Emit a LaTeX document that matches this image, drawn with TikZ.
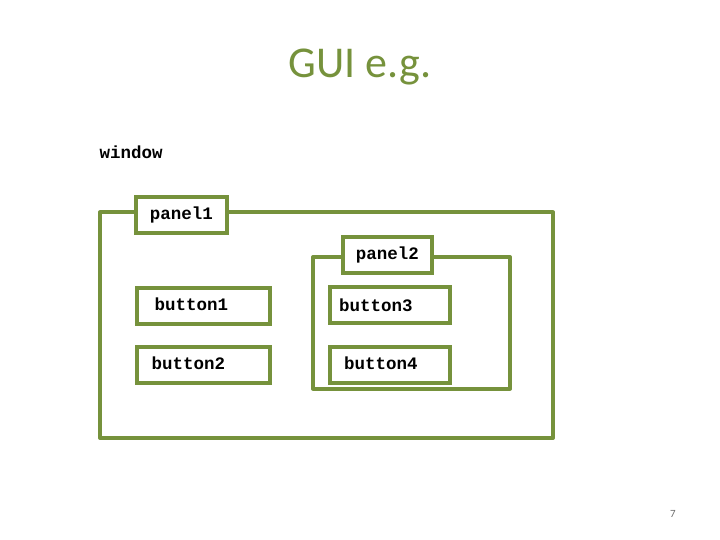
\documentclass[tikz,border=0pt]{standalone}
\usepackage{fontspec}
\setmainfont{Carlito}
\newfontfamily\codefont{Liberation Mono}
\usetikzlibrary{positioning}
\definecolor{guiGreen}{RGB}{118,146,60}
\definecolor{pageGray}{RGB}{110,110,110}

\begin{document}
\begin{tikzpicture}[
    x=1pt, y=-1pt,
    frame/.style={draw=guiGreen, line width=4pt, line join=round},
    widget/.style={draw=guiGreen, line width=4pt, fill=white, inner sep=0pt,
                   minimum height=36pt, font=\codefont\bfseries\fontsize{17.5}{20}\selectfont}
]
\useasboundingbox (0,0) rectangle (720,540);

% Title
\node[font=\fontsize{44}{50}\selectfont, text=guiGreen] (title) at (360,67) {GUI e.g.};
\node[anchor=west, font=\codefont\bfseries\fontsize{17.5}{20}\selectfont] (window) at (96,152) {window};

% Window outline
\draw[frame] (136,212.5) -- (100,212.5) -- (100,438) -- (553,438) -- (553,212.5) -- (227,212.5);
\node[widget, minimum width=91pt] (panel1) at (181.5,215) {panel1};

% Panel2 outline
\draw[frame] (343,257) -- (313,257) -- (313,388.5) -- (510,388.5) -- (510,257) -- (432,257);
\node[widget, minimum width=89pt] (panel2) at (387.5,255) {panel2};

% Buttons
\node[widget, minimum width=133pt] (button1) at (203.5,306) {\raisebox{3pt}{button1}\kern24pt};
\node[widget, minimum width=133pt] (button2) at (203.5,365) {\raisebox{3pt}{button2}\kern30pt};
\node[widget, minimum width=120pt] (button3) at (390,305) {button3\kern28pt};
\node[widget, minimum width=120pt] (button4) at (390,365) {\raisebox{3pt}{button4}\kern18pt};

% Page number
\node[font=\fontsize{11}{13}\selectfont, text=pageGray] (page) at (673,514) {7};
\end{tikzpicture}
\end{document}
